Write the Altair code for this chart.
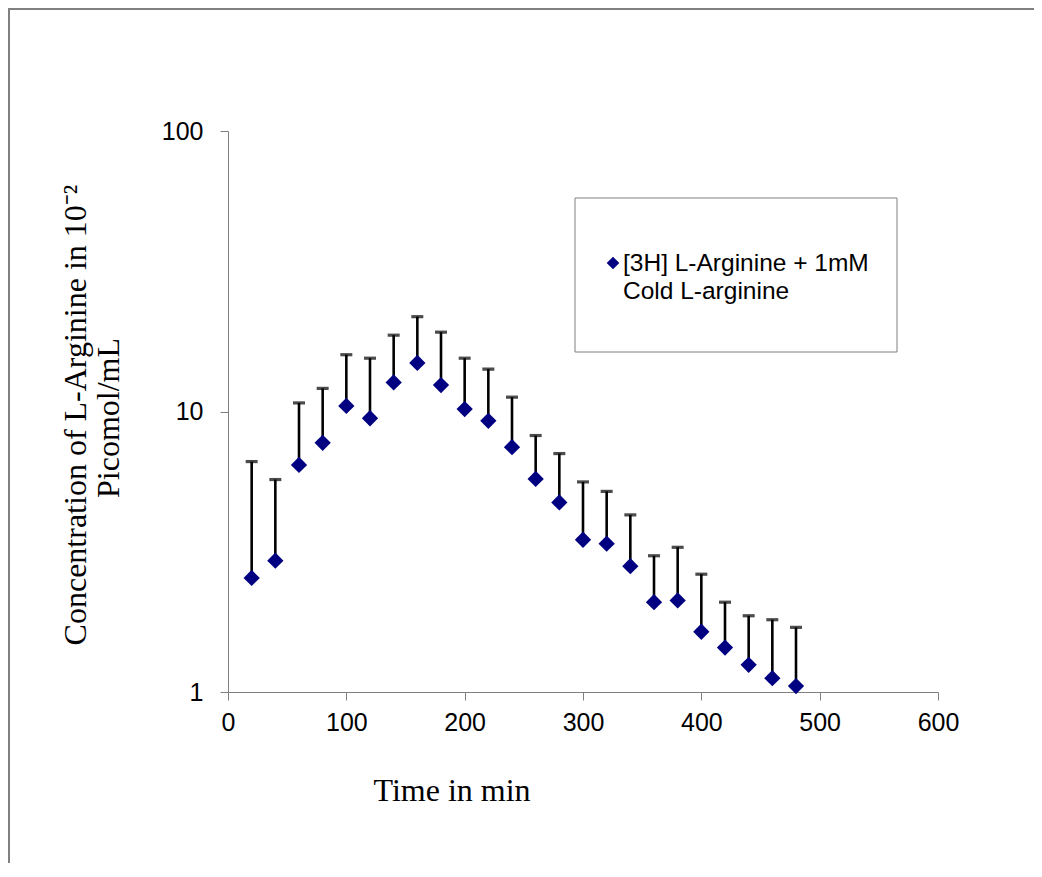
import altair as alt
import pandas as pd

# ---- data ----
time_min = [20, 40, 60, 80, 100, 120, 140, 160, 180, 200, 220, 240,
            260, 280, 300, 320, 340, 360, 380, 400, 420, 440, 460, 480]
concentration = [2.55, 2.94, 6.45, 7.73, 10.47, 9.46, 12.7, 14.9, 12.42, 10.2, 9.26, 7.46,
                 5.75, 4.74, 3.49, 3.38, 2.81, 2.09, 2.12, 1.64, 1.44, 1.25, 1.12, 1.05]
upper = [6.63, 5.72, 10.73, 12.09, 15.94, 15.49, 18.71, 21.78, 19.18, 15.49, 14.16, 11.25,
         8.21, 7.08, 5.61, 5.19, 4.28, 3.06, 3.28, 2.63, 2.09, 1.87, 1.81, 1.70]
series_label_1 = "[3H] L-Arginine + 1mM"
series_label_2 = "Cold L-arginine"
x_title = "Time in min"
y_title_1 = "Concentration of L-Arginine in 10\u207b\u00b2"
y_title_2 = "Picomol/mL"
x_ticks = [0, 100, 200, 300, 400, 500, 600]
y_ticks = [1, 10, 100]

df = pd.DataFrame({"t": time_min, "c": concentration, "u": upper})

W, H = 710, 561
PAD_L, PAD_T, PAD_R, PAD_B = 220, 123, 96, 171

xs = alt.Scale(domain=[0, 600], nice=False, zero=False)
ys = alt.Scale(type="log", domain=[1, 100], nice=False)

x_axis = alt.Axis(values=x_ticks, title=None, grid=False, labelFont="Liberation Sans",
                  labelFontSize=25, labelColor="black", tickSize=8, labelPadding=10,
                  domainColor="#808080", tickColor="#808080", labelFlush=False)
y_axis = alt.Axis(values=y_ticks, title=None, grid=False, format="d", labelFont="Liberation Sans",
                  labelFontSize=25, labelColor="black", tickSize=8, labelPadding=17,
                  domainColor="#808080", tickColor="#808080", labelFlush=False)

base = alt.Chart(df)

stems = base.mark_rule(color="black", strokeWidth=2.6).encode(
    x=alt.X("t:Q", scale=xs, axis=x_axis),
    y=alt.Y("c:Q", scale=ys, axis=y_axis),
    y2="u:Q",
)
caps = base.mark_tick(color="black", orient="horizontal", size=12, thickness=3.2).encode(
    x=alt.X("t:Q", scale=xs),
    y=alt.Y("u:Q", scale=ys),
)
points = base.mark_point(shape="diamond", filled=True, color="#000080", size=265, opacity=1).encode(
    x=alt.X("t:Q", scale=xs),
    y=alt.Y("c:Q", scale=ys),
)

one = alt.Data(values=[{"a": 1}])

frame = alt.Chart(one).mark_rect(filled=False, stroke="#808080", strokeWidth=2).encode(
    x=alt.value(-PAD_L + 1), x2=alt.value(W + PAD_R + 20),
    y=alt.value(-PAD_T + 1), y2=alt.value(H + PAD_B + 20),
)

legend_box = alt.Chart(one).mark_rect(filled=False, stroke="#808080", strokeWidth=1).encode(
    x=alt.value(575 - 228), x2=alt.value(897 - 228),
    y=alt.value(198 - 131), y2=alt.value(352 - 131),
)
legend_sym = alt.Chart(one).mark_point(shape="diamond", filled=True, color="#000080",
                                         size=160, opacity=1).encode(
    x=alt.value(613 - 228), y=alt.value(263 - 131),
)
legend_text1 = alt.Chart(alt.Data(values=[{"lbl": series_label_1}])).mark_text(
    align="left", baseline="alphabetic", font="Liberation Sans", fontSize=24.5, color="black",
).encode(x=alt.value(623 - 228), y=alt.value(270.5 - 131), text="lbl:N")
legend_text2 = alt.Chart(alt.Data(values=[{"lbl": series_label_2}])).mark_text(
    align="left", baseline="alphabetic", font="Liberation Sans", fontSize=24.5, color="black",
).encode(x=alt.value(623 - 228), y=alt.value(298.5 - 131), text="lbl:N")

xtitle = alt.Chart(alt.Data(values=[{"s": x_title}])).mark_text(
    align="center", baseline="alphabetic", font="Liberation Serif", fontSize=32, color="black",
).encode(x=alt.value(452 - 228), y=alt.value(801 - 131), text="s:N")

ytitle1 = alt.Chart(alt.Data(values=[{"s": y_title_1}])).mark_text(
    align="center", baseline="alphabetic", font="Liberation Serif", fontSize=32, color="black",
    angle=270,
).encode(x=alt.value(86 - 228), y=alt.value(415 - 131), text="s:N")

ytitle2 = alt.Chart(alt.Data(values=[{"s": y_title_2}])).mark_text(
    align="center", baseline="alphabetic", font="Liberation Serif", fontSize=32, color="black",
    angle=270,
).encode(x=alt.value(119 - 228), y=alt.value(418 - 131), text="s:N")

chart = alt.layer(
    frame, stems, caps, points, legend_box, legend_sym, legend_text1, legend_text2,
    xtitle, ytitle1, ytitle2
).properties(
    width=W, height=H,
    autosize=alt.AutoSizeParams(type="none"),
    padding={"left": PAD_L, "top": PAD_T, "right": PAD_R, "bottom": PAD_B},
    background="white",
).configure_view(strokeWidth=0)

chart.save("out.html", embed_options={"renderer": "svg", "actions": False})
